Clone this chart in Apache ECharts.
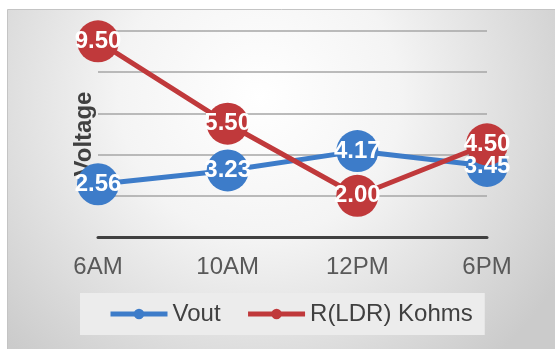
<!DOCTYPE html>
<html>
<head>
<meta charset="utf-8">
<script src="https://cdn.jsdelivr.net/npm/echarts@6/dist/echarts.min.js"></script>
<style>
  html, body { margin: 0; padding: 0; background: #ffffff; }
  #chart { width: 555px; height: 349px; }
</style>
</head>
<body>
<div id="chart"></div>
<script>
// values
const categories = ['6AM', '10AM', '12PM', '6PM'];
const vout = [2.56, 3.23, 4.17, 3.45];
const rldr = [9.50, 5.50, 2.00, 4.50];
const yTicks = [0, 2, 4, 6, 8, 10];

const chart = echarts.init(document.getElementById('chart'), null, { renderer: 'canvas' });

const labelStyle = {
    show: true,
    position: 'inside',
    color: '#ffffff',
    fontFamily: 'Liberation Sans, Arial, sans-serif',
    fontWeight: 'bold',
    fontSize: 24,
    formatter: (p) => p.value.toFixed(2)
};

chart.setOption({
    backgroundColor: '#ffffff',
    animation: false,
    graphic: [{
        type: 'rect',
        shape: { x: 7.5, y: 9.5, width: 560, height: 350 },
        style: {
            fill: {
                type: 'radial', x: 0.45, y: 0.25, r: 1.0,
                colorStops: [
                    { offset: 0, color: '#ffffff' },
                    { offset: 0.4, color: '#f4f4f4' },
                    { offset: 1, color: '#cbcbcb' }
                ]
            },
            stroke: '#c4c4c4',
            lineWidth: 1
        },
        z: -1
    }],
    grid: {
        left: 98,
        right: 68,
        top: 31,
        bottom: 112
    },
    legend: {
        left: 80,
        top: 293,
        padding: [9, 12, 9, 28],
        backgroundColor: '#ececec',
        itemWidth: 57,
        itemHeight: 13,
        itemGap: 25,
        lineStyle: { width: 5 },
        textStyle: {
            color: '#404040',
            fontFamily: 'Liberation Sans, Arial, sans-serif',
            fontSize: 24
        },
        data: ['Vout', 'R(LDR) Kohms']
    },
    xAxis: {
        type: 'category',
        data: categories,
        boundaryGap: false,
        axisLine: { lineStyle: { color: '#404040', width: 3 } },
        axisTick: { show: false },
        axisLabel: {
            color: '#595959',
            fontFamily: 'Liberation Sans, Arial, sans-serif',
            fontSize: 24,
            margin: 18
        }
    },
    yAxis: {
        type: 'value',
        min: yTicks[0],
        max: yTicks[yTicks.length - 1],
        interval: 2,
        name: 'Voltage',
        nameLocation: 'middle',
        nameRotate: 90,
        nameGap: 2,
        nameTextStyle: {
            color: '#404040',
            fontFamily: 'Liberation Sans, Arial, sans-serif',
            fontWeight: 'bold',
            fontSize: 24
        },
        axisLine: { show: false },
        axisTick: { show: false },
        axisLabel: { show: false },
        splitLine: { lineStyle: { color: '#a6a6a6', width: 1.5 } }
    },
    series: [{
        name: 'Vout',
        type: 'line',
        data: vout,
        symbol: 'circle',
        symbolSize: 42,
        color: '#3d7cc9',
        lineStyle: { width: 5, color: '#3d7cc9' },
        itemStyle: { color: '#3d7cc9' },
        label: labelStyle
    }, {
        name: 'R(LDR) Kohms',
        type: 'line',
        data: rldr,
        symbol: 'circle',
        symbolSize: 42,
        color: '#c0393b',
        lineStyle: { width: 5, color: '#c0393b' },
        itemStyle: { color: '#c0393b' },
        label: labelStyle
    }]
});
</script>
</body>
</html>
